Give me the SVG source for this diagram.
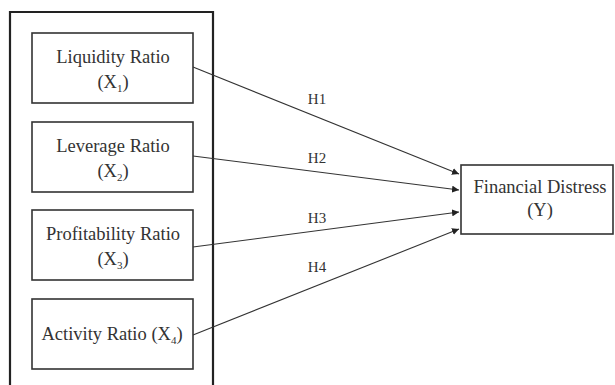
<svg xmlns="http://www.w3.org/2000/svg" width="615" height="385" viewBox="0 0 615 385">
<defs>
<style>
.box{fill:#fff;stroke:#333;stroke-width:1.6}
.outer{fill:none;stroke:#222;stroke-width:2.2}
.t{font-family:"Liberation Serif","Times New Roman",serif;font-size:18.5px;fill:#333;text-anchor:middle}
.h{font-family:"Liberation Serif","Times New Roman",serif;font-size:15px;fill:#333;text-anchor:middle}
.sub{font-size:11px}
.ln{stroke:#333;stroke-width:1.1;fill:none;marker-end:url(#ah)}
</style>
<marker id="ah" viewBox="0 0 10 10" refX="10" refY="5" markerWidth="7" markerHeight="7" markerUnits="userSpaceOnUse" orient="auto">
<path d="M0,0 L10,5 L0,10 z" fill="#222"/>
</marker>
</defs>
<rect width="615" height="385" fill="#fff"/>
<g id="frame"><path class="outer" d="M10,390 L10,12 L213,12 L213,390"/></g>
<g id="connectors">
<line class="ln" x1="193" y1="67" x2="459" y2="174"/>
<line class="ln" x1="193" y1="156" x2="459" y2="190"/>
<line class="ln" x1="193" y1="247" x2="459" y2="212"/>
<line class="ln" x1="193" y1="335" x2="459" y2="229"/>
<text class="h" x="317" y="104">H1</text>
<text class="h" x="317" y="163">H2</text>
<text class="h" x="317" y="223">H3</text>
<text class="h" x="317" y="272">H4</text>
</g>
<g id="x1"><rect class="box" x="32" y="33" width="161" height="70"/>
<text class="t" x="113" y="63">Liquidity Ratio</text>
<text class="t" x="113" y="88">(X<tspan class="sub" dy="4">1</tspan><tspan dy="-4">)</tspan></text></g>
<g id="x2"><rect class="box" x="32" y="122" width="161" height="70"/>
<text class="t" x="113" y="152">Leverage Ratio</text>
<text class="t" x="113" y="177">(X<tspan class="sub" dy="4">2</tspan><tspan dy="-4">)</tspan></text></g>
<g id="x3"><rect class="box" x="32" y="210" width="161" height="70"/>
<text class="t" x="113" y="240">Profitability Ratio</text>
<text class="t" x="113" y="265">(X<tspan class="sub" dy="4">3</tspan><tspan dy="-4">)</tspan></text></g>
<g id="x4"><rect class="box" x="32" y="299" width="161" height="70"/>
<text class="t" x="112" y="340">Activity Ratio (X<tspan class="sub" dy="4">4</tspan><tspan dy="-4">)</tspan></text></g>
<g id="y"><rect class="box" x="461" y="165" width="152" height="69"/>
<text class="t" x="540" y="193">Financial Distress</text>
<text class="t" x="540" y="216">(Y)</text></g>
</svg>
